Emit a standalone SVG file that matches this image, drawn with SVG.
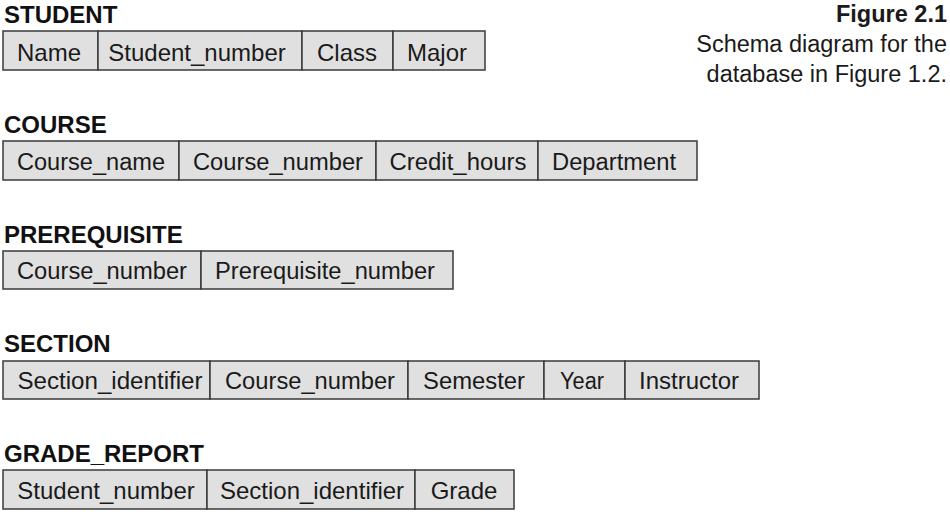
<svg xmlns="http://www.w3.org/2000/svg" width="950" height="514" viewBox="0 0 950 514">
<style>
.bg{fill:#ffffff}
.cell{fill:#e0e0e0;stroke:#3a3a3a;stroke-width:1.5}
.t{font-family:"Liberation Sans",Arial,sans-serif;font-size:23px;fill:#1a1a1a;text-anchor:middle}
.t24{font-size:24px}
.h{font-family:"Liberation Sans",Arial,sans-serif;font-size:24px;font-weight:bold;fill:#111}
.cap{font-family:"Liberation Sans",Arial,sans-serif;font-size:23.5px;fill:#1a1a1a;text-anchor:end}
</style>
<rect class="bg" x="0" y="0" width="950" height="514"/>
<g id="caption">
<text class="cap" x="947" y="22" font-weight="bold">Figure 2.1</text>
<text class="cap" x="947" y="52">Schema diagram for the</text>
<text class="cap" x="947" y="82">database in Figure 1.2.</text>
</g>
<g id="student">
<text class="h" x="4" y="23">STUDENT</text>
<rect class="cell" x="3" y="31" width="95" height="39"/>
<rect class="cell" x="98" y="31" width="204" height="39"/>
<rect class="cell" x="302" y="31" width="91" height="39"/>
<rect class="cell" x="393" y="31" width="92" height="39"/>
<text class="t t24" x="49" y="61">Name</text>
<text class="t t24" x="197" y="61">Student_number</text>
<text class="t t24" x="347" y="61">Class</text>
<text class="t t24" x="437" y="61">Major</text>
</g>
<g id="course">
<text class="h" x="4" y="133">COURSE</text>
<rect class="cell" x="3" y="141" width="176" height="39"/>
<rect class="cell" x="179" y="141" width="197" height="39"/>
<rect class="cell" x="376" y="141" width="162" height="39"/>
<rect class="cell" x="538" y="141" width="159" height="39"/>
<text class="t" x="91" y="170" textLength="148" lengthAdjust="spacingAndGlyphs">Course_name</text>
<text class="t" x="278" y="170" textLength="170" lengthAdjust="spacingAndGlyphs">Course_number</text>
<text class="t" x="458" y="170" textLength="137" lengthAdjust="spacingAndGlyphs">Credit_hours</text>
<text class="t" x="614" y="170" textLength="124" lengthAdjust="spacingAndGlyphs">Department</text>
</g>
<g id="prerequisite">
<text class="h" x="4" y="243">PREREQUISITE</text>
<rect class="cell" x="3" y="251" width="198" height="38"/>
<rect class="cell" x="201" y="251" width="252" height="38"/>
<text class="t" x="102" y="279" textLength="170" lengthAdjust="spacingAndGlyphs">Course_number</text>
<text class="t" x="325" y="279" textLength="220" lengthAdjust="spacingAndGlyphs">Prerequisite_number</text>
</g>
<g id="section">
<text class="h" x="4" y="352">SECTION</text>
<rect class="cell" x="3" y="361" width="207" height="38"/>
<rect class="cell" x="210" y="361" width="198" height="38"/>
<rect class="cell" x="408" y="361" width="136" height="38"/>
<rect class="cell" x="544" y="361" width="81" height="38"/>
<rect class="cell" x="625" y="361" width="134" height="38"/>
<text class="t" x="110" y="389" textLength="185" lengthAdjust="spacingAndGlyphs">Section_identifier</text>
<text class="t" x="310" y="389" textLength="170" lengthAdjust="spacingAndGlyphs">Course_number</text>
<text class="t" x="474" y="389" textLength="102" lengthAdjust="spacingAndGlyphs">Semester</text>
<text class="t" x="582" y="389" textLength="44" lengthAdjust="spacingAndGlyphs">Year</text>
<text class="t" x="689" y="389" textLength="100" lengthAdjust="spacingAndGlyphs">Instructor</text>
</g>
<g id="grade_report">
<text class="h" x="4" y="462">GRADE_REPORT</text>
<rect class="cell" x="3" y="470" width="204" height="39"/>
<rect class="cell" x="207" y="470" width="208" height="39"/>
<rect class="cell" x="415" y="470" width="99" height="39"/>
<text class="t t24" x="106" y="499">Student_number</text>
<text class="t t24" x="312" y="499">Section_identifier</text>
<text class="t t24" x="464" y="499">Grade</text>
</g>
<g id="connectors"></g>
</svg>
